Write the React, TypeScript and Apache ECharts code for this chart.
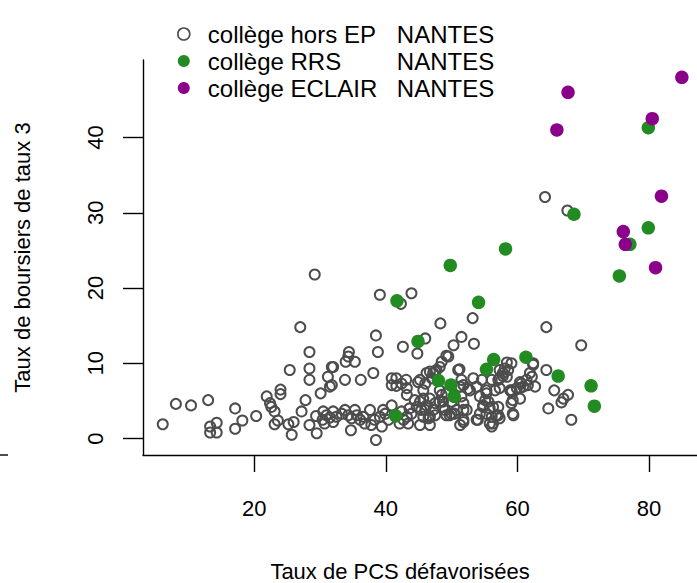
import React, { useEffect, useRef } from "react";
import * as echarts from "echarts";

const FONT = "'Liberation Sans', Arial, Helvetica, sans-serif";

// Series names (legend) and the town shown in the legend's second column
const seriesNames = ["collège hors EP", "collège RRS", "collège ECLAIR"];
const town = "NANTES";

// Tick labels
const xTicks = [20, 40, 60, 80];
const yTicks = [0, 10, 20, 30, 40];

// [Taux de PCS défavorisées, Taux de boursiers de taux 3]
const horsEP: number[][] = [
  [6.1, 1.9], [8.1, 4.6], [10.4, 4.4], [13.0, 5.1], [13.3, 1.6], [13.3, 0.8], [14.3, 0.8], [14.3, 2.1],
  [17.1, 4.0], [17.1, 1.3], [18.2, 2.4], [20.3, 3.0], [21.9, 5.6], [22.4, 4.7], [22.6, 4.2], [23.1, 3.6],
  [23.6, 2.4], [23.1, 1.9], [24.0, 6.5], [24.0, 5.9], [25.2, 1.9], [26.0, 2.2], [25.7, 0.5], [25.4, 9.1],
  [27.0, 14.8], [28.4, 11.5], [28.4, 9.3], [28.4, 7.8], [29.2, 21.8], [27.8, 5.1], [27.2, 3.6], [28.4, 1.8],
  [29.5, 0.7], [29.4, 3.0], [30.1, 6.0], [31.8, 9.5], [31.2, 8.2], [31.5, 6.9], [30.5, 3.6], [31.0, 3.1],
  [30.4, 2.5], [31.5, 2.8], [32.0, 3.6], [32.0, 2.2], [30.7, 2.0],
  [38.5, 13.7], [38.8, 11.5], [42.6, 12.2], [44.8, 11.3], [34.4, 11.5], [33.9, 10.2], [34.3, 10.9], [35.3, 10.2],
  [32.0, 9.5], [31.8, 7.1], [33.8, 7.8], [36.2, 7.8], [38.1, 8.7], [40.9, 8.0], [41.6, 8.0], [40.9, 7.1],
  [41.6, 7.0], [42.4, 7.3], [43.1, 7.8], [43.2, 6.7], [44.9, 7.5], [45.2, 7.8], [43.2, 5.8], [44.4, 5.1],
  [44.7, 4.2], [43.6, 4.0], [45.2, 4.9], [45.4, 3.8], [43.9, 3.3],
  [32.5, 2.9], [33.3, 3.3], [33.8, 3.8], [34.3, 3.1], [34.8, 2.7], [35.3, 3.8], [35.6, 3.1], [36.1, 2.5],
  [36.6, 2.9], [36.8, 2.0], [37.6, 3.8], [37.8, 1.8], [38.3, 2.5], [39.1, 2.9], [39.4, 1.6], [39.9, 3.3],
  [40.4, 2.5], [34.7, 1.1], [38.5, -0.2], [42.4, 3.6], [42.7, 2.5], [43.4, 2.0], [45.2, 1.8],
  [39.1, 19.1], [43.9, 19.3], [42.3, 17.9], [48.3, 15.3], [53.2, 16.0], [64.4, 14.8], [46.0, 13.3], [51.5, 13.5],
  [50.3, 12.4], [53.4, 12.6], [49.2, 11.0], [48.5, 10.2], [51.2, 9.2], [47.7, 9.1], [47.2, 8.7], [58.4, 10.1],
  [59.1, 10.0], [57.3, 9.1], [57.8, 8.3], [57.1, 7.8], [61.9, 8.7], [62.4, 9.8], [62.7, 6.9], [61.6, 7.1],
  [60.6, 7.3], [60.4, 6.7], [59.1, 6.4], [59.3, 5.1], [59.3, 3.3], [64.4, 9.1], [64.7, 4.0], [53.3, 8.0],
  [53.8, 6.9], [52.8, 6.4], [55.3, 6.0], [54.3, 5.6], [55.6, 4.9], [54.8, 4.4], [55.8, 4.0], [57.1, 4.2],
  [56.8, 3.1], [56.1, 2.9], [56.3, 2.0], [51.5, 7.8], [51.3, 6.9], [51.5, 5.6], [51.8, 4.7], [52.3, 3.8],
  [51.8, 2.2], [53.8, 2.5], [54.3, 3.3], [48.2, 6.4], [48.7, 4.9], [49.0, 3.8], [49.2, 3.1], [50.0, 3.3],
  [46.7, 5.3], [46.2, 4.4], [45.7, 2.9], [46.7, 2.9], [43.2, 2.9], [42.1, 2.0], [40.9, 4.4], [39.6, 3.8],
  [49.5, 10.9], [48.2, 9.5], [57.8, 8.7], [58.6, 9.1], [57.3, 8.0], [46.7, 8.9], [46.2, 8.7], [47.5, 8.9],
  [47.0, 8.0], [51.0, 9.1], [54.6, 7.8], [56.1, 7.8], [51.8, 7.1], [52.5, 6.6], [55.3, 6.4], [56.6, 6.4],
  [57.3, 6.7], [58.9, 6.4], [55.1, 5.1], [56.3, 4.2], [54.8, 4.2], [55.3, 3.3], [57.1, 3.1], [57.3, 2.7],
  [54.0, 2.5], [55.8, 2.0], [56.1, 1.6], [51.8, 2.5], [51.8, 3.8], [50.8, 3.8], [50.0, 4.9], [48.2, 4.9],
  [48.7, 4.2], [47.5, 4.7], [47.2, 3.8], [45.7, 5.3], [46.0, 3.8], [46.5, 2.7], [46.7, 1.8], [47.5, 3.1],
  [49.7, 3.1], [51.3, 1.8], [50.4, 3.3], [48.5, 5.8], [49.2, 6.0], [46.0, 7.3], [45.7, 6.4],
  [69.7, 12.4], [62.4, 10.0], [58.1, 9.3], [58.4, 8.2], [62.2, 8.2], [61.4, 7.8], [60.4, 7.5], [60.9, 6.9],
  [59.9, 6.7], [59.1, 6.2], [60.4, 5.3], [59.1, 4.7], [59.4, 3.1], [65.6, 6.4], [67.0, 5.3], [67.7, 5.8],
  [66.7, 4.8], [68.2, 2.5], [64.2, 32.1], [67.6, 30.3],
];

const rrs: number[][] = [
  [79.9, 41.3], [68.6, 29.8], [79.9, 28.0], [77.1, 25.8], [75.5, 21.6], [61.3, 10.8], [66.2, 8.3],
  [71.2, 7.0], [71.7, 4.3], [49.8, 23.0], [58.2, 25.2], [41.7, 18.3], [54.1, 18.1], [44.9, 12.9],
  [56.4, 10.5], [55.3, 9.2], [48.0, 7.7], [49.9, 7.1], [50.4, 5.6], [41.5, 3.0],
];

const eclair: number[][] = [
  [85.0, 48.0], [67.7, 46.0], [66.0, 41.0], [80.5, 42.5], [81.9, 32.2], [76.1, 27.5], [76.4, 25.8], [81.0, 22.7],
];

const GREY = "#4d4d4d";
const GREEN = "#228B22";
const PURPLE = "#8B008B";

export default function App() {
  const ref = useRef<HTMLDivElement>(null);

  useEffect(() => {
    if (!ref.current) return;
    const chart = echarts.init(ref.current, undefined, { renderer: "svg" });
    const option: any = {
      animation: false,
      textStyle: { fontFamily: FONT },
      grid: { left: 143, right: 0, top: 60, bottom: 128, outerBoundsMode: "none" },
      xAxis: {
        type: "value",
        min: 3.1,
        max: 87.3,
        name: "Taux de PCS défavorisées",
        nameLocation: "middle",
        nameGap: 105,
        nameTextStyle: { fontSize: 22, color: "#000", fontFamily: FONT, padding: [0, 40, 0, 0] },
        splitLine: { show: false },
        axisLine: { onZero: false, lineStyle: { color: "#000", width: 1.4 } },
        axisTick: { customValues: xTicks, length: 17, lineStyle: { color: "#000", width: 1.4 } },
        axisLabel: { customValues: xTicks, margin: 42, fontSize: 22, color: "#000", fontFamily: FONT },
      },
      yAxis: {
        type: "value",
        min: -2.19,
        max: 50.3,
        name: "Taux de boursiers de taux 3",
        nameLocation: "middle",
        nameRotate: 90,
        nameGap: 110,
        nameTextStyle: { fontSize: 22, color: "#000", fontFamily: FONT },
        splitLine: { show: false },
        axisLine: { show: true, onZero: false, lineStyle: { color: "#000", width: 1.4 } },
        axisTick: { show: true, customValues: yTicks, length: 20, lineStyle: { color: "#000", width: 1.4 } },
        axisLabel: { customValues: yTicks, rotate: 90, margin: 37, fontSize: 22, color: "#000", fontFamily: FONT },
      },
      legend: {
        orient: "vertical",
        left: 177,
        top: 22,
        padding: 0,
        itemWidth: 38,
        itemHeight: 12,
        itemGap: 3,
        selectedMode: false,
        formatter: (name: string) => `{a|${name}}{b|${town}}`,
        textStyle: {
          fontSize: 24,
          color: "#000",
          fontFamily: FONT,
          rich: {
            a: { width: 189, fontSize: 24, color: "#000", fontFamily: FONT },
            b: { fontSize: 24, color: "#000", fontFamily: FONT },
          },
        },
        data: [
          { name: seriesNames[0], icon: "circle", itemStyle: { color: "rgba(0,0,0,0)", borderColor: GREY, borderWidth: 1.6 } },
          { name: seriesNames[1], icon: "circle", itemStyle: { color: GREEN, borderWidth: 0 } },
          { name: seriesNames[2], icon: "circle", itemStyle: { color: PURPLE, borderWidth: 0 } },
        ],
      },
      graphic: [
        { type: "line", shape: { x1: 0, y1: 455, x2: 8, y2: 455 }, style: { stroke: "#000", lineWidth: 1.4 } },
      ],
      series: [
        {
          type: "scatter",
          name: seriesNames[0],
          data: horsEP,
          symbol: "circle",
          symbolSize: 10,
          itemStyle: { color: "rgba(0,0,0,0)", borderColor: GREY, borderWidth: 2, opacity: 1 },
          emphasis: { disabled: true },
        },
        {
          type: "scatter",
          name: seriesNames[1],
          data: rrs,
          symbol: "circle",
          symbolSize: 13.5,
          itemStyle: { color: GREEN, opacity: 1 },
          emphasis: { disabled: true },
        },
        {
          type: "scatter",
          name: seriesNames[2],
          data: eclair,
          symbol: "circle",
          symbolSize: 13.5,
          itemStyle: { color: PURPLE, opacity: 1 },
          emphasis: { disabled: true },
        },
      ],
    };
    chart.setOption(option);
    return () => chart.dispose();
  }, []);

  return (
    <div
      ref={ref}
      style={{ position: "absolute", left: 0, top: 0, width: 697, height: 583, background: "#fff" }}
    />
  );
}
